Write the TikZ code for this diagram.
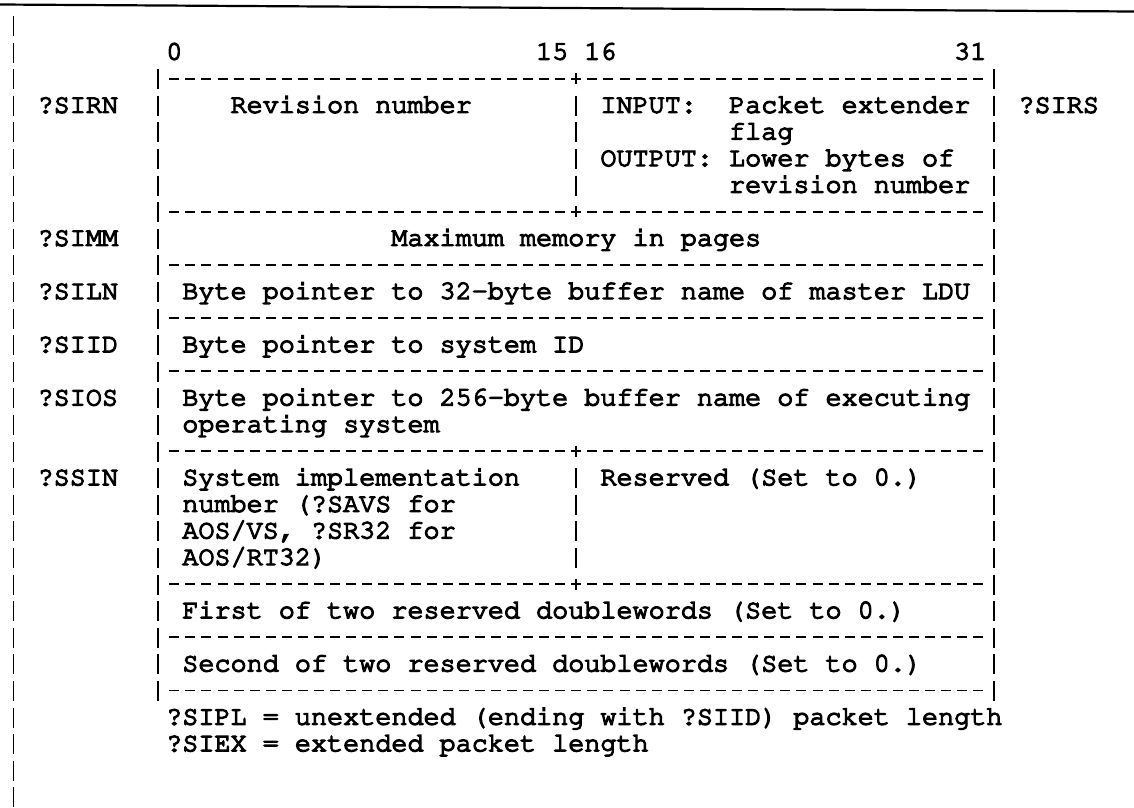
\documentclass[tikz,border=0pt]{standalone}
\usepackage[T1]{fontenc}

% Courier (URW) at a 16.08pt character pitch
\newcommand\courfont{\fontencoding{T1}\fontfamily{pcr}\fontseries{m}\fontshape{n}\fontsize{26.8}{26.6}\selectfont}
% Courier is a thin face: fill and stroke the glyphs for a heavier typewriter look
\newcommand\inked[1]{\special{pdf:literal direct 2 Tr 1.3 w}#1\special{pdf:literal direct 0 Tr}}
% a text field that starts in character column #2 of line #3
\newcommand\fieldat[4]{\node[field] (#1) at ({#2-0.5},#3) {\inked{#4}};}

\tikzset{
  field/.style={anchor=base west, inner sep=0pt, outer sep=0pt, yshift=-7.5pt, font=\courfont},
  rule/.style={line width=1.8pt, dash pattern=on 10pt off 6.08pt},
  bar/.style={line width=1.9pt, dash pattern=on 20pt off 6.6pt},
  tick/.style={line width=1.8pt},
}

\begin{document}
\begin{tikzpicture}
  \useasboundingbox[fill=white] (0pt,0pt) rectangle (1134pt,-807pt);
  % rule across the top of the page
  \draw[line width=2.2pt] (0pt,-4.5pt) -- (1134pt,-11.5pt);

  % one unit = one character cell: columns of 16.08pt, lines of 26.6pt
  \begin{scope}[x=16.08pt, y=-26.6pt, shift={(13.5pt,1.1pt)}]
    % margin bar
    \draw[bar] (0,{1-0.36}) -- (0,{30+0.40});
    % outer sides of the packet
    \draw[bar] (9,{3-0.36}) -- (9,{26+0.40});
    \draw[bar] (61,{3-0.36}) -- (61,{26+0.40});
    % half-word dividers
    \draw[bar] (35,{4-0.36}) -- (35,{7+0.40});
    \draw[bar] (35,{18-0.36}) -- (35,{21+0.40});
    % doubleword separators
    \foreach \r in {3,8,10,12,14,17,22,24,26}
      \draw[rule] ({10-0.311},\r) -- ({60+0.311},\r);
    % crossings with the half-word dividers
    \foreach \r in {3,8,17,22}
      \draw[tick] (35,{\r-0.21}) -- (35,{\r+0.21});

    % bit numbers
    \fieldat{b0}{10}{2}{0}
    \fieldat{b15}{33}{2}{15}
    \fieldat{b16}{36}{2}{16}
    \fieldat{b31}{59}{2}{31}

    % offset names
    \fieldat{sirn}{2}{4}{?SIRN}
    \fieldat{sirs}{63}{4}{?SIRS}
    \fieldat{simm}{2}{9}{?SIMM}
    \fieldat{siln}{2}{11}{?SILN}
    \fieldat{siid}{2}{13}{?SIID}
    \fieldat{sios}{2}{15}{?SIOS}
    \fieldat{ssin}{2}{18}{?SSIN}

    % contents of the words
    \fieldat{rev}{14}{4}{Revision number}
    \fieldat{inp}{37}{4}{INPUT:}
    \fieldat{inpa}{45}{4}{Packet extender}
    \fieldat{inpb}{45}{5}{flag}
    \fieldat{outp}{37}{6}{OUTPUT:}
    \fieldat{outpa}{45}{6}{Lower bytes of}
    \fieldat{outpb}{45}{7}{revision number}
    \fieldat{mem}{24}{9}{Maximum memory in pages}
    \fieldat{ldu}{11}{11}{Byte pointer to 32-byte buffer name of master LDU}
    \fieldat{sysid}{11}{13}{Byte pointer to system ID}
    \fieldat{osa}{11}{15}{Byte pointer to 256-byte buffer name of executing}
    \fieldat{osb}{11}{16}{operating system}
    \fieldat{impa}{11}{18}{System implementation}
    \fieldat{impb}{11}{19}{number (?SAVS for}
    \fieldat{impc}{11}{20}{AOS/VS, ?SR32 for}
    \fieldat{impd}{11}{21}{AOS/RT32)}
    \fieldat{resv}{37}{18}{Reserved (Set to 0.)}
    \fieldat{dwa}{11}{23}{First of two reserved doublewords (Set to 0.)}
    \fieldat{dwb}{11}{25}{Second of two reserved doublewords (Set to 0.)}

    % packet lengths
    \fieldat{sipl}{10}{27}{?SIPL = unextended (ending with ?SIID) packet length}
    \fieldat{siex}{10}{28}{?SIEX = extended packet length}
  \end{scope}
\end{tikzpicture}
\end{document}
